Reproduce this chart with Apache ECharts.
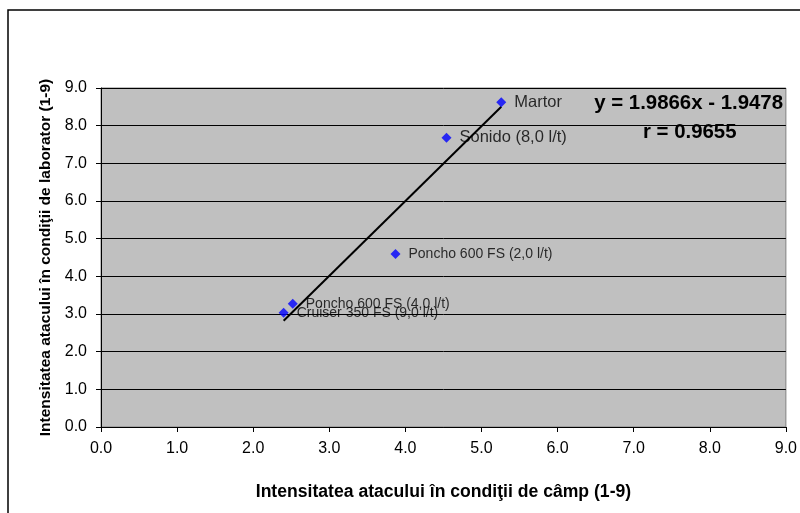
<!DOCTYPE html>
<html>
<head>
<meta charset="utf-8">
<script src="https://cdn.jsdelivr.net/npm/echarts@6/dist/echarts.min.js"></script>
<style>html,body{margin:0;padding:0;background:#fff}#c{width:800px;height:513px}</style>
</head>
<body>
<div id="c"></div>
<script>
// Data
var names = ["Martor", "Sonido (8,0 l/t)", "Poncho 600 FS (2,0 l/t)", "Poncho 600 FS (4,0 l/t)", "Cruiser 350 FS (9,0 l/t)"];
var xField = [5.26, 4.54, 3.87, 2.52, 2.40];
var yLab = [8.62, 7.68, 4.59, 3.27, 3.03];
var slope = 1.9866;
var intercept = -1.9478;
var rValue = 0.9655;
var axisTicks = [0, 1, 2, 3, 4, 5, 6, 7, 8, 9];

var FONT = 'Liberation Sans, Arial, sans-serif';
var bigLabel = {"Martor": true, "Sonido (8,0 l/t)": true};

var pts = names.map(function (n, i) {
  return {
    name: n,
    value: [xField[i], yLab[i]],
    label: { fontSize: bigLabel[n] ? 16.5 : 14 }
  };
});
var xmin = Math.min.apply(null, xField), xmax = Math.max.apply(null, xField);
var trend = [[xmin, slope * xmin + intercept], [xmax, slope * xmax + intercept]];

var chart = echarts.init(document.getElementById('c'), null, { renderer: 'canvas' });
chart.setOption({
  animation: false,
  backgroundColor: '#ffffff',
  textStyle: { fontFamily: FONT },
  grid: { left: 101, right: 11, top: 88, bottom: 86, show: true, backgroundColor: '#C0C0C0', borderColor: '#808080', borderWidth: 1 },
  graphic: [
    { type: 'rect', shape: { x: 8, y: 10, width: 820, height: 540 }, style: { fill: 'none', stroke: '#000', lineWidth: 1.5 }, silent: true, z: -1 },
    { type: 'text', right: 17, top: 93, style: { text: 'y = ' + slope.toFixed(4) + 'x - ' + Math.abs(intercept).toFixed(4), font: 'bold 20.4px ' + FONT, fill: '#000' }, z: 100 },
    { type: 'text', left: 643, top: 122, style: { text: 'r = ' + rValue.toFixed(4), font: 'bold 20.4px ' + FONT, fill: '#000' }, z: 100 }
  ],
  xAxis: {
    type: 'value', min: axisTicks[0], max: axisTicks[axisTicks.length - 1], interval: 1,
    name: 'Intensitatea atacului în condiţii de câmp (1-9)',
    nameLocation: 'middle', nameGap: 56,
    nameTextStyle: { fontWeight: 'bold', fontSize: 17.6, color: '#000', fontFamily: FONT },
    axisLine: { show: true, onZero: false, lineStyle: { color: '#000', width: 1 } },
    axisTick: { show: true, inside: false, length: 5, lineStyle: { color: '#000' } },
    axisLabel: { color: '#000', fontSize: 16, margin: 14, formatter: function (v) { return v.toFixed(1); } },
    splitLine: { show: false }
  },
  yAxis: {
    type: 'value', min: axisTicks[0], max: axisTicks[axisTicks.length - 1], interval: 1,
    name: 'Intensitatea atacului în condiţii de laborator (1-9)',
    nameLocation: 'middle', nameGap: 46,
    nameTextStyle: { fontWeight: 'bold', fontSize: 15.5, color: '#000', fontFamily: FONT },
    axisLine: { show: true, onZero: false, lineStyle: { color: '#000', width: 1 } },
    axisTick: { show: true, inside: false, length: 5, lineStyle: { color: '#000' } },
    axisLabel: { color: '#000', fontSize: 16, margin: 14, formatter: function (v) { return v.toFixed(1); } },
    splitLine: { show: true, lineStyle: { color: '#000', width: 1 } }
  },
  series: [
    {
      type: 'line', data: trend, symbol: 'none', z: 3,
      lineStyle: { color: '#000', width: 2 }, silent: true
    },
    {
      type: 'scatter', data: pts, symbol: 'diamond', symbolSize: 10, z: 4,
      itemStyle: { color: '#0000FF' },
      label: { show: true, position: 'right', distance: 8, color: '#000', fontFamily: FONT, formatter: '{b}' }
    }
  ]
});
</script>
</body>
</html>
